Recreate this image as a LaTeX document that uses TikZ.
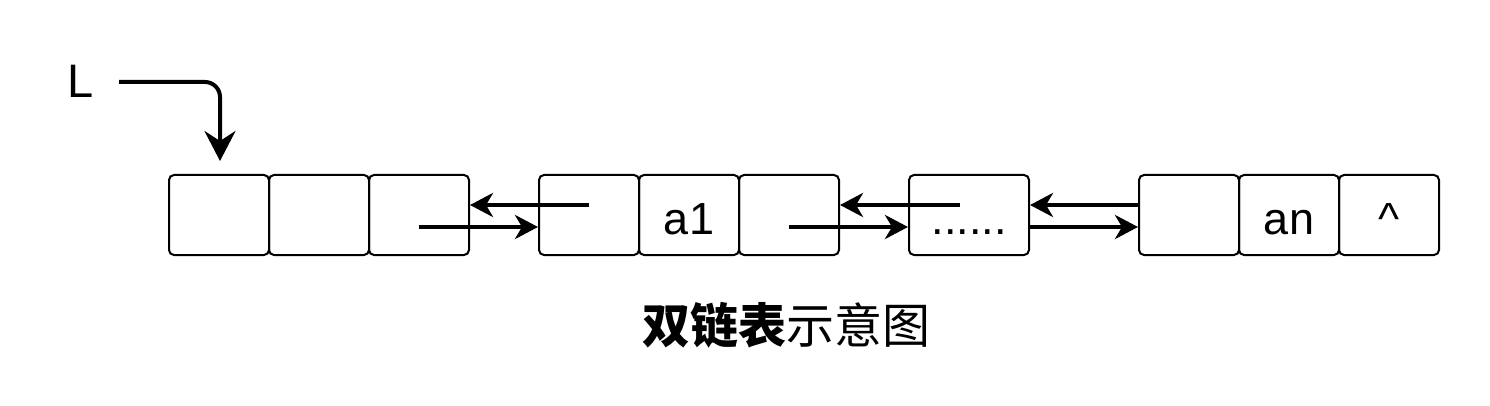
\documentclass[tikz,border=0pt]{standalone}
\usepackage{fontspec}
\setmainfont{Liberation Sans}
\newfontfamily\cjk{Noto Sans CJK SC}
\usetikzlibrary{arrows.meta}
\tikzset{
  cell/.style={draw=black, line width=2pt, rounded corners=5pt, minimum width=100pt, minimum height=80pt,
    inner sep=0pt, text height=38pt, text depth=0pt, font=\fontsize{45}{54}\selectfont},
  link/.style={line width=4pt, -{Stealth[length=23pt, width=24pt, inset=7pt]}},
  headarr/.style={line width=4pt, rounded corners=15pt, -{Stealth[length=30pt, width=31pt, inset=10pt]}},
}
\begin{document}
\begin{tikzpicture}[x=1pt, y=-1pt]
\useasboundingbox[fill=white] (0,0) rectangle (1490,406);
% first group (head)
\node[cell] (c1) at (219,215) {};
\node[cell] (c2) at (319,215) {};
\node[cell] (c3) at (419,215) {};
% second group
\node[cell] (c4) at (589,215) {};
\node[cell] (c5) at (689,215) {a1};
\node[cell] (c6) at (789,215) {};
% dots
\node[cell, minimum width=120pt] (dots) at (969,215) {......};
% last group
\node[cell] (c7) at (1189,215) {};
\node[cell] (c8) at (1289,215) {an};
\node[cell] (c9) at (1389,215) {\^{}};
% head pointer
\node[anchor=base west, inner sep=0pt, font=\fontsize{47}{56}\selectfont] (L) at (67,98) {L};
\coordinate (Ls) at (119,82);
\draw[headarr] (Ls) -| ([xshift=1pt, yshift=13pt]c1.north);
% links
\draw[link] ([yshift=-12pt]c3.center) -- ([yshift=-12pt]c4.west);
\draw[link] ([yshift=10pt]c4.center) -- ([yshift=10pt]c3.east);
\draw[link] ([yshift=-12pt]c6.center) -- ([yshift=-12pt]dots.west);
\draw[link] ([xshift=-9pt, yshift=10pt]dots.center) -- ([yshift=10pt]c6.east);
\draw[link] ([yshift=10pt]c7.west) -- ([yshift=10pt]dots.east);
\draw[link] ([yshift=-12pt]dots.east) -- ([yshift=-12pt]c7.west);
% caption
\node[inner sep=0pt, font=\cjk\fontsize{48}{58}\selectfont] (title) at (786,325) {{\bfseries 双链表}示意图};
\end{tikzpicture}
\end{document}
